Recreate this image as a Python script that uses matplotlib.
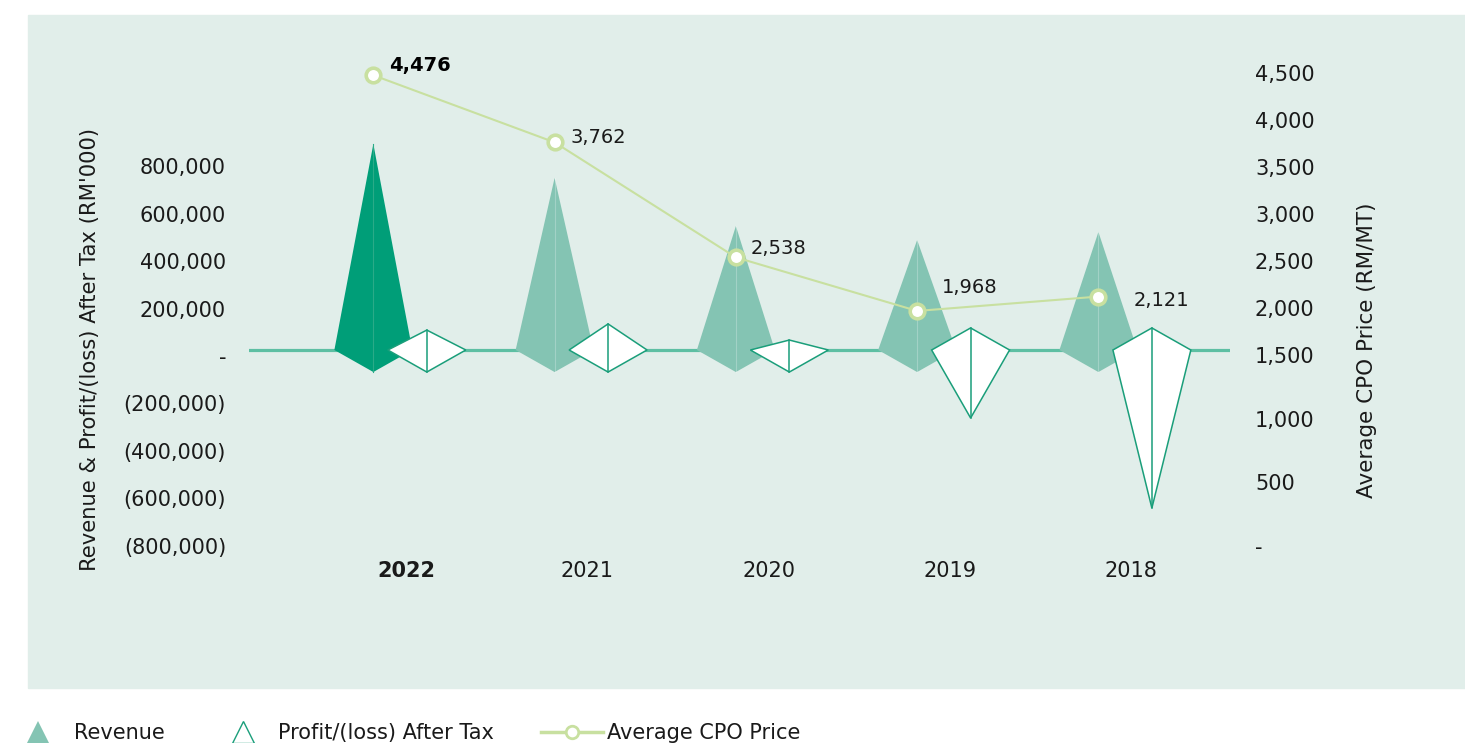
import numpy as np
import matplotlib
matplotlib.use("Agg")
import matplotlib.pyplot as plt
from matplotlib.patches import Polygon, Rectangle
from matplotlib.lines import Line2D
from matplotlib.ticker import FixedLocator, FuncFormatter
from matplotlib.transforms import ScaledTranslation

plt.rcParams['font.family'] = ['DejaVu Sans']

# data (RM'000 and RM/MT)
years = ["2022", "2021", "2020", "2019", "2018"]
revenue = [869000, 726000, 523000, 464000, 498000]
profit = [84000, 110000, 42000, -287000, -667000]
cpo_price = [4476, 3762, 2538, 1968, 2121]

left_ticks = [800000, 600000, 400000, 200000, 0, -200000, -400000, -600000, -800000]
right_ticks = [4500, 4000, 3500, 3000, 2500, 2000, 1500, 1000, 500, 0]

# styles
BG = "#e1eeea"
REV_HI = "#009e78"
REV = "#84c4b3"
PROFIT_EDGE = "#1a9e7a"
CPO = "#c8e0a0"
TEXT = "#1a1a1a"
BASE = "#5dbfa3"

fig = plt.figure(figsize=(14.65, 7.43), dpi=100)
fig.patches.append(Rectangle((28 / 1465, 1 - 688 / 743), 1.0, 673 / 743,
                             transform=fig.transFigure, color=BG, zorder=-10))

ax = fig.add_axes([249 / 1465, 1 - 560 / 743, 981 / 1465, 520 / 743])
ax.set_facecolor("none")
for s in ax.spines.values():
    s.set_visible(False)

x = np.arange(len(years))
rev_x = x - 0.18
pro_x = x + 0.115
half_w = 0.215
depth = 93000

ax.axhline(0, color=BASE, lw=2.3, zorder=1)


def pyramid(xc, v, face, edge, center_col, lw, z):
    tip = -np.sign(v) * depth
    poly = Polygon([(xc - half_w, 0), (xc, v), (xc + half_w, 0), (xc, tip)],
                   closed=True, facecolor=face, edgecolor=edge, lw=lw, zorder=z,
                   joinstyle="miter")
    ax.add_patch(poly)
    ax.plot([xc, xc], [v, tip], color=center_col, lw=lw if lw else 0.8, zorder=z + 0.1)


for i in range(len(years)):
    col = REV_HI if i == 0 else REV
    pyramid(rev_x[i], revenue[i], col, "none", "#ffffff40" if i else "#2aab88", 0, 2)
for i in range(len(years)):
    pyramid(pro_x[i], profit[i], "white", PROFIT_EDGE, PROFIT_EDGE, 1.1, 3)

ax.set_xlim(-0.866, 4.546)
ax.set_ylim(-886076, 1308017)

ax.yaxis.set_major_locator(FixedLocator(left_ticks))


def left_fmt(v, pos):
    if v == 0:
        return "-"
    if v < 0:
        return "({:,.0f})".format(-v)
    return "{:,.0f}".format(v)


ax.yaxis.set_major_formatter(FuncFormatter(left_fmt))
ax.tick_params(axis="y", length=0, pad=16.5, labelsize=15, labelcolor=TEXT)
# the original's left labels sit a few pixels below their gridline
shift = ScaledTranslation(0, -6 / 100, fig.dpi_scale_trans)
for lab in ax.get_yticklabels():
    lab.set_transform(lab.get_transform() + shift)

ax.set_xticks(x)
ax.set_xticklabels(years)
ax.tick_params(axis="x", length=0, pad=1, labelsize=15, labelcolor=TEXT)
ax.get_xticklabels()[0].set_fontweight("bold")

ax.set_ylabel("Revenue & Profit/(loss) After Tax (RM'000)", fontsize=15.2, color=TEXT)
ax.yaxis.set_label_coords(-0.152, 0.404)

# right axis: piecewise scale below 1,500 as in the original
R = 63.7 / 47.0


def fwd(v):
    v = np.asarray(v, dtype=float)
    return np.where(v >= 1500, v, 1500 - (1500 - v) * R)


def inv(t):
    t = np.asarray(t, dtype=float)
    return np.where(t >= 1500, t, 1500 - (1500 - t) / R)


ax2 = ax.twinx()
for s in ax2.spines.values():
    s.set_visible(False)
ax2.set_yscale("function", functions=(fwd, inv))
ax2.set_ylim(-110, 4851)
ax2.yaxis.set_major_locator(FixedLocator(right_ticks))
ax2.yaxis.set_minor_locator(FixedLocator([]))
ax2.yaxis.set_major_formatter(FuncFormatter(lambda v, p: "-" if v == 0 else "{:,.0f}".format(v)))
ax2.tick_params(axis="y", length=0, pad=18, labelsize=15, labelcolor=TEXT)
ax2.set_ylabel("Average CPO Price (RM/MT)", fontsize=15.5, color=TEXT)
ax2.yaxis.set_label_coords(1.1295, 0.404)

ax2.plot(rev_x, cpo_price, color=CPO, lw=1.5, marker="o", markersize=10.5,
         markerfacecolor="white", markeredgecolor=CPO, markeredgewidth=2.6, zorder=5)

offsets = [(16, 10), (16, 5), (15, 9), (25, 23), (35, -4)]
for i, v in enumerate(cpo_price):
    ax2.annotate("{:,}".format(v), (rev_x[i], v), xytext=offsets[i],
                 textcoords="offset pixels", ha="left", va="center",
                 fontsize=14, color="black" if i == 0 else TEXT,
                 fontweight="bold" if i == 0 else "normal")

handles = [
    Line2D([], [], ls="none", marker="^", markersize=16, color=REV, markeredgewidth=0),
    Line2D([], [], ls="none", marker="^", markersize=16, markerfacecolor="none",
           markeredgecolor=PROFIT_EDGE, markeredgewidth=1),
    Line2D([], [], color=CPO, lw=2.5, marker="o", markersize=9, markerfacecolor="white",
           markeredgecolor=CPO, markeredgewidth=2),
]
fig.legend(handles, ["Revenue", "Profit/(loss) After Tax", "Average CPO Price"],
           loc="center left", bbox_to_anchor=(7 / 1465, 1 - 733 / 743), ncol=3,
           frameon=False, fontsize=15, handlelength=3, handletextpad=0.2,
           columnspacing=2.25, borderpad=0, borderaxespad=0, labelcolor=TEXT)

fig.savefig("out.png", dpi=100)
